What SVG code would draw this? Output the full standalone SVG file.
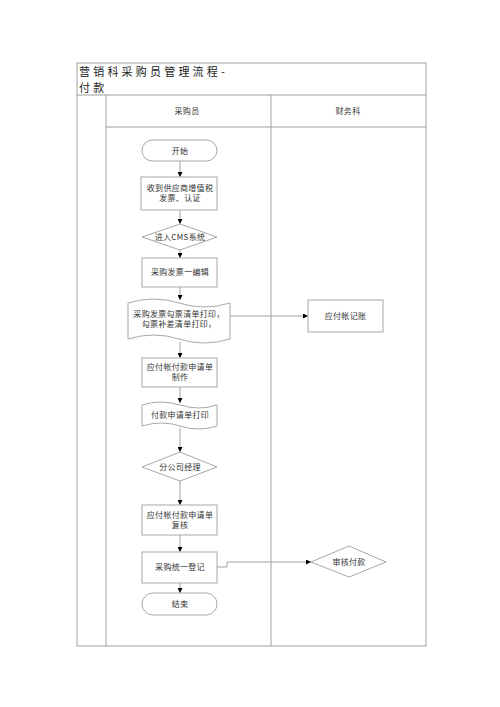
<svg xmlns="http://www.w3.org/2000/svg" width="500" height="707" viewBox="0 0 500 707">
<style>
.frame{fill:none;stroke:#a0a0a0;stroke-width:1}
.nd{fill:#fff;stroke:#a8a8a8;stroke-width:1}
.t{font-family:"Noto Sans CJK SC","Liberation Serif",serif;font-size:8px;fill:#333;text-anchor:middle;letter-spacing:0.3px}
.ttl{font-family:"Noto Sans CJK SC","Liberation Serif",serif;font-size:11px;fill:#222;letter-spacing:3.2px}
.ln{fill:none;stroke:#a0a0a0;stroke-width:1}
</style>
<defs>
<marker id="ar" viewBox="0 0 10 10" refX="10" refY="5" markerWidth="5" markerHeight="5" orient="auto" markerUnits="userSpaceOnUse"><path d="M0,0L10,5L0,10z" fill="#000"/></marker>
</defs>
<rect width="500" height="707" fill="#fff"/>
<g id="frame">
<rect class="frame" x="77" y="63" width="349" height="583"/>
<line class="frame" x1="77" y1="95" x2="426" y2="95"/>
<line class="frame" x1="106" y1="127" x2="426" y2="127"/>
<line class="frame" x1="106" y1="95" x2="106" y2="646"/>
<line class="frame" x1="271" y1="95" x2="271" y2="646"/>
<text class="ttl" x="79" y="76">营销科采购员管理流程-</text>
<text class="ttl" x="79" y="92">付款</text>
<text class="t" x="187" y="114">采购员</text>
<text class="t" x="348" y="114">财务科</text>
</g>
<g id="connectors">
<line class="ln" x1="180" y1="161" x2="180" y2="177" marker-end="url(#ar)"/>
<line class="ln" x1="180" y1="210" x2="180" y2="224" marker-end="url(#ar)"/>
<line class="ln" x1="180" y1="250" x2="180" y2="258" marker-end="url(#ar)"/>
<line class="ln" x1="180" y1="287" x2="180" y2="300" marker-end="url(#ar)"/>
<line class="ln" x1="180" y1="342" x2="180" y2="358" marker-end="url(#ar)"/>
<line class="ln" x1="180" y1="387" x2="180" y2="403" marker-end="url(#ar)"/>
<line class="ln" x1="180" y1="428" x2="180" y2="452" marker-end="url(#ar)"/>
<line class="ln" x1="180" y1="481" x2="180" y2="505" marker-end="url(#ar)"/>
<line class="ln" x1="180" y1="535" x2="180" y2="552" marker-end="url(#ar)"/>
<line class="ln" x1="180" y1="583" x2="180" y2="593" marker-end="url(#ar)"/>
<line class="ln" x1="230" y1="316" x2="308" y2="316" marker-end="url(#ar)"/>
<polyline class="ln" points="217,567 227,567 227,562 311,562" marker-end="url(#ar)"/>
</g>
<g id="n1"><rect class="nd" x="142" y="140" width="75" height="21" rx="10.5"/><text class="t" x="180" y="153.5">开始</text></g>
<g id="n2"><rect class="nd" x="141" y="177" width="76" height="33"/><text class="t" x="180" y="191">收到供应商增值税</text><text class="t" x="180" y="201">发票、认证</text></g>
<g id="n3"><polygon class="nd" points="180,224 217,237 180,250 142,237"/><text class="t" x="180" y="240">进入CMS系统</text></g>
<g id="n4"><rect class="nd" x="142" y="258" width="75" height="29"/><text class="t" x="180" y="275">采购发票一编辑</text></g>
<g id="n5"><path class="nd" d="M128,303 Q154,295 179,303 T230,303 L230,339 Q204,347 179,339 T128,339 Z"/><text class="t" x="179" y="317">采购发票勾票清单打印，</text><text class="t" x="179" y="327">勾票补差清单打印，</text></g>
<g id="n6"><rect class="nd" x="308" y="300" width="75" height="32"/><text class="t" x="345.5" y="319">应付帐记账</text></g>
<g id="n7"><rect class="nd" x="142" y="358" width="75" height="29"/><text class="t" x="180" y="370">应付帐付款申请单</text><text class="t" x="180" y="380">制作</text></g>
<g id="n8"><path class="nd" d="M142,405 Q161,399 180,405 T217,405 L217,426 Q198,432 180,426 T142,426 Z"/><text class="t" x="180" y="418">付款申请单打印</text></g>
<g id="n9"><polygon class="nd" points="180,452 217,467 180,481 142,467"/><text class="t" x="180" y="470">分公司经理</text></g>
<g id="n10"><rect class="nd" x="142" y="505" width="75" height="30"/><text class="t" x="180" y="518">应付帐付款申请单</text><text class="t" x="180" y="528">复核</text></g>
<g id="n11"><rect class="nd" x="142" y="552" width="75" height="31"/><text class="t" x="180" y="570">采购统一登记</text></g>
<g id="n12"><polygon class="nd" points="349,546 386,562 349,577 311,562"/><text class="t" x="349" y="565">审核付款</text></g>
<g id="n13"><rect class="nd" x="142" y="593" width="75" height="22" rx="11"/><text class="t" x="180" y="607">结束</text></g>
</svg>
